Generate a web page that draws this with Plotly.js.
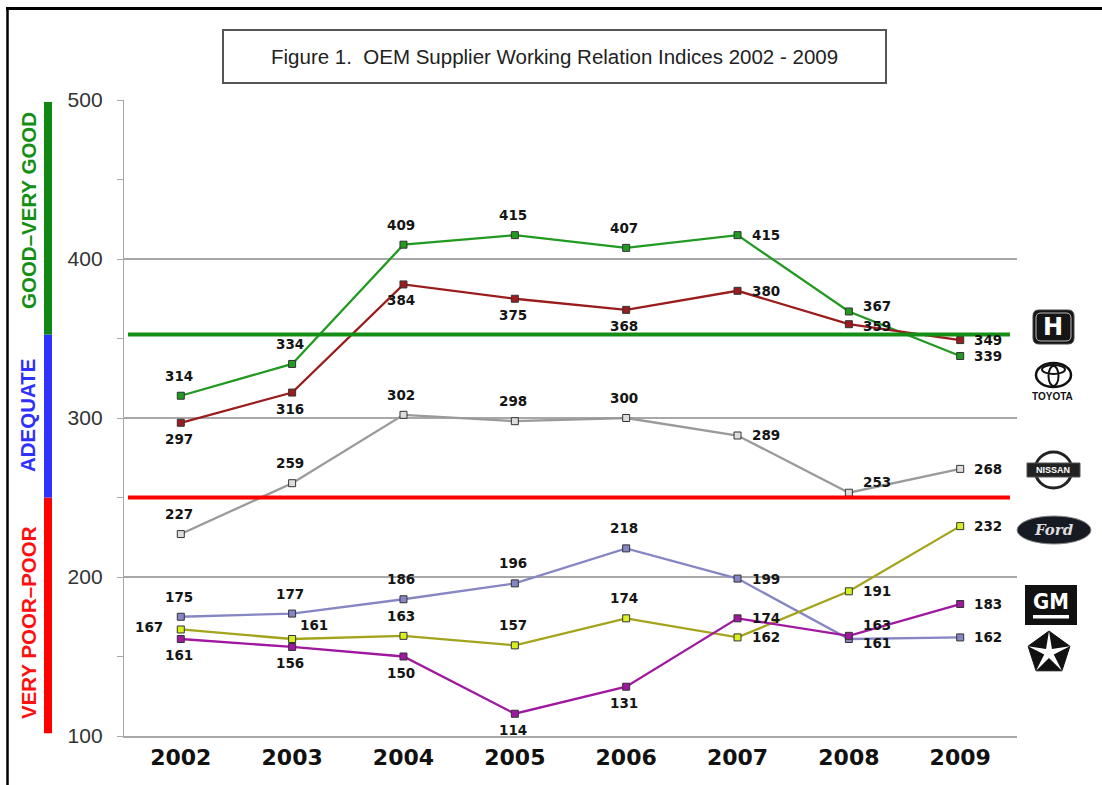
<!DOCTYPE html>
<html>
<head>
<meta charset="utf-8">
<script src="https://cdn.plot.ly/plotly-3.0.1.min.js"></script>
<style>html,body{margin:0;padding:0;background:#fff;}#chart{width:1102px;height:785px;}</style>
</head>
<body>
<div id="chart"></div>
<script>
// ---- data ----
const years = [2002, 2003, 2004, 2005, 2006, 2007, 2008, 2009];
const yearLabels = ["2002", "2003", "2004", "2005", "2006", "2007", "2008", "2009"];
const toyota = [314, 334, 409, 415, 407, 415, 367, 339];
const honda = [297, 316, 384, 375, 368, 380, 359, 349];
const nissan = [227, 259, 302, 298, 300, 289, 253, 268];
const chrysler = [175, 177, 186, 196, 218, 199, 161, 162];
const ford = [167, 161, 163, 157, 174, 162, 191, 232];
const gm = [161, 156, 150, 114, 131, 174, 163, 183];
const yTicks = [100, 200, 300, 400, 500];
const goodLevel = 352.5;
const poorLevel = 250;
const bandLabels = ["GOOD\u2013VERY GOOD", "ADEQUATE", "VERY POOR\u2013POOR"];
const titleText = "Figure 1.\u00a0\u00a0OEM Supplier Working Relation Indices 2002 - 2009";

// ---- styles ----
const series = [
  {name: "Toyota", y: toyota, color: "#229a22", fill: "#229a22", pos: ["a","a","a","a","a","r","rs","r"]},
  {name: "Honda", y: honda, color: "#9b1c1c", fill: "#9b1c1c", pos: ["b","b","b","b","b","r","rt","r"]},
  {name: "Nissan", y: nissan, color: "#9a9a9a", fill: "#dddddd", pos: ["a","a","a","a","a","r","ra","r"]},
  {name: "Chrysler", y: chrysler, color: "#8686c4", fill: "#8686c4", pos: ["a","a","a","a","a","r","rb","r"]},
  {name: "Ford", y: ford, color: "#a3a31c", fill: "#d8f020", pos: ["l","ar","a","a","a","r","r","r"]},
  {name: "GM", y: gm, color: "#a0189f", fill: "#a0189f", pos: ["b","b","b","b","b","r","ra","r"]}
];

const L = 124, R = 1017, T = 100, B = 736;
const px = x => (x - L) / (R - L);
const py = y => (B - y) / (B - T);
const pathFrom = pts => 'M' + pts.map(p => px(p[0]).toFixed(5) + ',' + py(p[1]).toFixed(5)).join(' L') + ' Z';

const traces = series.map(s => ({
  x: years, y: s.y, type: 'scatter', mode: 'lines+markers', name: s.name,
  line: {color: s.color, width: 2.3},
  marker: {symbol: 'square', size: 7, color: s.fill, line: {color: '#333', width: 1}},
  hoverinfo: 'skip', cliponaxis: false
}));

const offsets = {
  a: {xanchor: 'center', xshift: -2, yshift: 20},
  b: {xanchor: 'center', xshift: -2, yshift: -16},
  r: {xanchor: 'left', xshift: 12, yshift: 0},
  rs: {xanchor: 'left', xshift: 12, yshift: 5},
  rt: {xanchor: 'left', xshift: 12, yshift: -2},
  ra: {xanchor: 'left', xshift: 12, yshift: 11},
  rb: {xanchor: 'left', xshift: 12, yshift: -4},
  ar: {xanchor: 'left', xshift: 6, yshift: 14},
  l: {xanchor: 'right', xshift: -16, yshift: 2}
};

const annotations = [];
series.forEach(s => {
  s.y.forEach((v, i) => {
    const o = offsets[s.pos[i]];
    annotations.push({
      x: years[i], y: v, xref: 'x', yref: 'y', text: String(v), showarrow: false,
      xanchor: o.xanchor, yanchor: 'middle', xshift: o.xshift, yshift: o.yshift,
      font: {family: 'DejaVu Sans', size: 13.5, color: '#151515', weight: 'bold'}
    });
  });
});

// title
annotations.push({xref: 'paper', yref: 'paper', x: px(554), y: py(56), text: titleText, showarrow: false,
  xanchor: 'center', yanchor: 'middle', font: {family: 'Liberation Sans, Arial', size: 20.5, color: '#222'}});

// band labels
const bandColors = ["#139013", "#2f2fff", "#ff1010"];
const bandCenters = [211, 415, 623];
bandLabels.forEach((t, i) => annotations.push({xref: 'paper', yref: 'paper', x: px(28), y: py(bandCenters[i]),
  text: t, showarrow: false, textangle: -90, xanchor: 'center', yanchor: 'middle',
  font: {family: 'Liberation Sans, Arial', size: 20.5, color: bandColors[i], weight: 'bold'}}));

// logo texts
const logoText = (x, y, t, size, color, fam, extra) => annotations.push(Object.assign({xref: 'paper', yref: 'paper',
  x: px(x), y: py(y), text: t, showarrow: false, xanchor: 'center', yanchor: 'middle',
  font: {family: fam, size: size, color: color, weight: 'bold'}}, extra || {}));
logoText(1053, 327, 'H', 24, '#fff', 'DejaVu Sans');
logoText(1052, 396, 'TOYOTA', 10, '#111', 'Liberation Sans, Arial');
logoText(1053, 470, 'NISSAN', 9, '#fff', 'Liberation Sans, Arial');
logoText(1054, 530, 'Ford', 15, '#ddd', 'DejaVu Serif', {font: {family: 'DejaVu Serif', size: 15, color: '#ddd', style: 'italic', weight: 'bold'}});
logoText(1051, 601, 'GM', 22, '#fff', 'DejaVu Sans Condensed, DejaVu Sans');

const shapes = [];
// outer frame
shapes.push({type: 'line', xref: 'paper', yref: 'paper', x0: px(7.5), x1: px(7.5), y0: py(8), y1: py(790), line: {color: '#000', width: 2.5}});
shapes.push({type: 'line', xref: 'paper', yref: 'paper', x0: px(6), x1: px(1110), y0: py(8.5), y1: py(8.5), line: {color: '#000', width: 3}});
// title box
shapes.push({type: 'rect', xref: 'paper', yref: 'paper', x0: px(223), x1: px(886), y0: py(30), y1: py(83), line: {color: '#555', width: 2}});
// left band bars
const bands = [[poorLevel, 101.8, '#ff0000'], [goodLevel, poorLevel, '#3030ff'], [498.7, goodLevel, '#118811']];
bands.forEach(b => shapes.push({type: 'rect', xref: 'paper', yref: 'y', x0: px(44), x1: px(52), y0: b[1], y1: b[0], line: {width: 0}, fillcolor: b[2]}));
// threshold lines
shapes.push({type: 'line', xref: 'paper', yref: 'y', x0: px(128), x1: px(1010), y0: goodLevel, y1: goodLevel, line: {color: '#158e15', width: 4}, layer: 'above'});
shapes.push({type: 'line', xref: 'paper', yref: 'y', x0: px(128), x1: px(1010), y0: poorLevel, y1: poorLevel, line: {color: '#ff0000', width: 4}, layer: 'above'});

// Honda logo
const rr = (x0, y0, x1, y1, r) => {
  const p = (x, y) => px(x).toFixed(5) + ',' + py(y).toFixed(5);
  return 'M' + p(x0 + r, y0) + ' L' + p(x1 - r, y0) + ' Q' + p(x1, y0) + ' ' + p(x1, y0 + r) +
    ' L' + p(x1, y1 - r) + ' Q' + p(x1, y1) + ' ' + p(x1 - r, y1) + ' L' + p(x0 + r, y1) +
    ' Q' + p(x0, y1) + ' ' + p(x0, y1 - r) + ' L' + p(x0, y0 + r) + ' Q' + p(x0, y0) + ' ' + p(x0 + r, y0) + ' Z';
};
shapes.push({type: 'path', xref: 'paper', yref: 'paper', path: rr(1033, 310, 1074, 344, 6), fillcolor: '#151515', line: {color: '#444', width: 1}});
shapes.push({type: 'path', xref: 'paper', yref: 'paper', path: rr(1036, 313, 1071, 341, 5), fillcolor: 'rgba(0,0,0,0)', line: {color: '#bbb', width: 1}});
// Toyota logo
shapes.push({type: 'circle', xref: 'paper', yref: 'paper', x0: px(1036), x1: px(1071), y0: py(363), y1: py(387), line: {color: '#111', width: 2.5}});
shapes.push({type: 'circle', xref: 'paper', yref: 'paper', x0: px(1042), x1: px(1065), y0: py(365), y1: py(374), line: {color: '#111', width: 2}});
shapes.push({type: 'circle', xref: 'paper', yref: 'paper', x0: px(1048.5), x1: px(1058.5), y0: py(366), y1: py(386), line: {color: '#111', width: 2}});
// Nissan logo
shapes.push({type: 'circle', xref: 'paper', yref: 'paper', x0: px(1035), x1: px(1072), y0: py(452), y1: py(488), line: {color: '#222', width: 3}});
shapes.push({type: 'rect', xref: 'paper', yref: 'paper', x0: px(1027), x1: px(1080), y0: py(463), y1: py(477), fillcolor: '#222', line: {color: '#555', width: 1}});
// Ford logo
shapes.push({type: 'circle', xref: 'paper', yref: 'paper', x0: px(1017), x1: px(1091), y0: py(516), y1: py(544), fillcolor: '#161a22', line: {color: '#888', width: 1}});
// GM logo
shapes.push({type: 'rect', xref: 'paper', yref: 'paper', x0: px(1025), x1: px(1077), y0: py(585), y1: py(625), fillcolor: '#111', line: {width: 0}});
shapes.push({type: 'rect', xref: 'paper', yref: 'paper', x0: px(1033), x1: px(1069), y0: py(615), y1: py(618.5), fillcolor: '#fff', line: {width: 0}});
// Chrysler pentastar
const cx = 1049, cy = 653, ro = 22, ri = 5;
const pent = [], star = [];
for (let k = 0; k < 5; k++) {
  const a = (-90 + 72 * k) * Math.PI / 180;
  pent.push([cx + ro * Math.cos(a), cy + ro * Math.sin(a)]);
  star.push([cx + ro * Math.cos(a), cy + ro * Math.sin(a)]);
  const b = (-90 + 72 * k + 36) * Math.PI / 180;
  star.push([cx + ri * Math.cos(b), cy + ri * Math.sin(b)]);
}
shapes.push({type: 'path', xref: 'paper', yref: 'paper', path: pathFrom(pent), fillcolor: '#111', line: {color: '#111', width: 1}});
shapes.push({type: 'path', xref: 'paper', yref: 'paper', path: pathFrom(star), fillcolor: '#fff', line: {width: 0}});

const layout = {
  width: 1102, height: 785,
  margin: {l: L, r: 1102 - R, t: T, b: 785 - B, pad: 0},
  paper_bgcolor: '#fff', plot_bgcolor: '#fff',
  showlegend: false,
  xaxis: {
    range: [2001.49, 2009.51], tickvals: years, ticktext: yearLabels,
    showgrid: false, zeroline: false, showline: true, linecolor: '#a8a8a8', linewidth: 2,
    ticks: '', ticklabelstandoff: 1,
    tickfont: {family: 'DejaVu Sans', size: 22, color: '#111', weight: 'bold'}
  },
  yaxis: {
    range: [100, 500], tickvals: yTicks, ticktext: yTicks.map(String),
    showgrid: true, gridcolor: '#a8a8a8', gridwidth: 1.2, zeroline: false,
    showline: true, linecolor: '#a8a8a8', linewidth: 1.2,
    ticks: 'outside', ticklen: 6, tickcolor: '#a8a8a8', tickwidth: 1,
    minor: {tick0: 150, dtick: 100, ticks: 'outside', ticklen: 6, tickcolor: '#a8a8a8', showgrid: false},
    ticklabelstandoff: 10,
    tickfont: {family: 'Liberation Sans, Arial', size: 21, color: '#333'}
  },
  annotations: annotations,
  shapes: shapes
};

Plotly.newPlot('chart', traces, layout, {staticPlot: true, displayModeBar: false});
</script>
</body>
</html>
